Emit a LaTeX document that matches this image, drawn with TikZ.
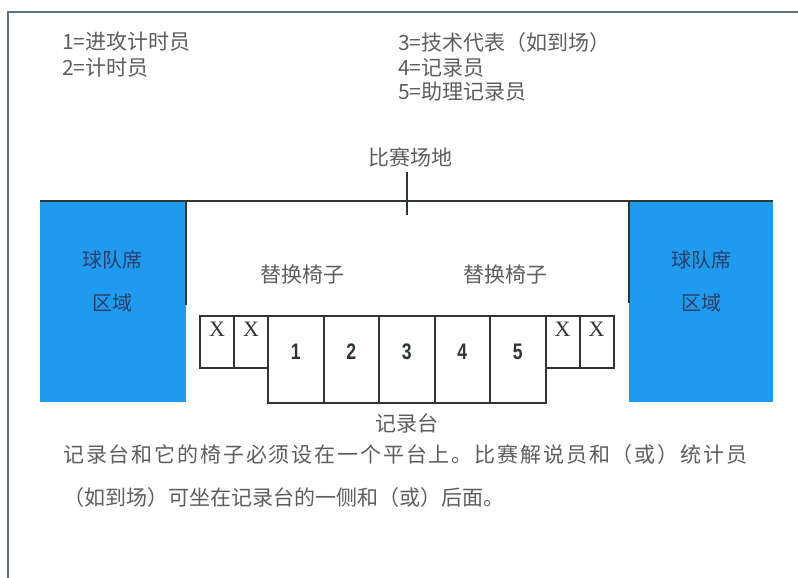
\documentclass[tikz,border=0pt]{standalone}
\usepackage{fontspec}
\newfontfamily\cjk{Noto Sans CJK SC}
\newfontfamily\numfont[FakeStretch=0.78]{Liberation Sans}
\newfontfamily\xfont{Liberation Serif}
\definecolor{teamblue}{HTML}{1E9BEF}
\definecolor{teamtext}{HTML}{2C3E66}
\definecolor{txtgray}{HTML}{5E5E5E}
\definecolor{lineblk}{HTML}{2F3535}
\definecolor{framec}{HTML}{5B7380}
\begin{document}
\begin{tikzpicture}[x=1pt,y=-1pt,
  txt/.style={font=\cjk\fontsize{21pt}{25pt}\selectfont, text=txtgray, inner sep=0pt},
  teamtxt/.style={font=\cjk\fontsize{20pt}{24pt}\selectfont, text=teamtext, inner sep=0pt},
  team/.style={fill=teamblue, draw=none, inner sep=0pt},
  heavy/.style={draw=lineblk, line width=2pt},
  seat/.style={draw=lineblk, line width=2pt, fill=white, inner sep=0pt},
  xbox/.style={seat, minimum width=34pt, minimum height=52pt},
  nbox/.style={seat, minimum width=55.5pt, minimum height=87pt},
  xlab/.style={font=\xfont\fontsize{22pt}{24pt}\selectfont, text=lineblk, inner sep=0pt},
  nlab/.style={font=\numfont\bfseries\fontsize{22.5pt}{24pt}\selectfont, text=lineblk, inner sep=0pt}]
\useasboundingbox (0,0) rectangle (798,578);
\fill[white] (0,0) rectangle (798,578);
% frame
\draw[framec, line width=1.5pt] (8,578) -- (8,12) -- (798,12);
% legend
\node[txt, anchor=west] (l1) at (62,42) {1=进攻计时员};
\node[txt, anchor=west] (l2) at (62,68) {2=计时员};
\node[txt, anchor=west] (l3) at (398,43) {3=技术代表（如到场）};
\node[txt, anchor=west] (l4) at (398,68) {4=记录员};
\node[txt, anchor=west] (l5) at (398,92) {5=助理记录员};
% field
\node[txt] (field) at (410,157) {比赛场地};
% team areas
\node[team, minimum width=146pt, minimum height=201pt] (tl) at (113,301.5) {};
\node[team, minimum width=144pt, minimum height=201pt] (tr) at (701,301.5) {};
\node[teamtxt] (tl1) at (112,260) {球队席};
\node[teamtxt] (tl2) at (112,303) {区域};
\node[teamtxt] (tr1) at (701,260) {球队席};
\node[teamtxt] (tr2) at (701,303) {区域};
\coordinate (fl) at (40,201);
\coordinate (fr) at (773,201);
\coordinate (ftop) at (407,172);
\coordinate (fbot) at (407,215);
\draw[heavy] (fl) -- (fr);
\draw[heavy] (ftop) -- (fbot);
\draw[heavy] (tl.north east) -- ([yshift=-104pt]tl.north east);
\draw[heavy] (tr.north west) -- ([yshift=-102pt]tr.north west);
% substitution chairs
\node[txt] (s1) at (302,275) {替换椅子};
\node[txt] (s2) at (505,275) {替换椅子};
% seats
\node[xbox] (x1) at (217,342) {};
\node[xbox] (x2) at (251,342) {};
\node[nbox] (n1) at (295.75,359.5) {};
\node[nbox] (n2) at (351.25,359.5) {};
\node[nbox] (n3) at (406.75,359.5) {};
\node[nbox] (n4) at (462.25,359.5) {};
\node[nbox] (n5) at (517.75,359.5) {};
\node[xbox] (x3) at (562.5,342) {};
\node[xbox] (x4) at (596.5,342) {};
\foreach \b in {x1,x2,x3,x4}{\node[xlab] at ([yshift=-14pt]\b.north) {X};}
\foreach \b/\t in {n1/1,n2/2,n3/3,n4/4,n5/5}{\node[nlab] at ([yshift=-37pt]\b.north) {\t};}
\node[txt] (table) at (407,423) {记录台};
% paragraph
\node[txt, anchor=west] (p1) at (63,455) {\hbox to 684pt{记\hfill 录\hfill 台\hfill 和\hfill 它\hfill 的\hfill 椅\hfill 子\hfill 必\hfill 须\hfill 设\hfill 在\hfill 一\hfill 个\hfill 平\hfill 台\hfill 上\hfill 。\hfill 比\hfill 赛\hfill 解\hfill 说\hfill 员\hfill 和\hfill （\hfill 或\hfill ）\hfill 统\hfill 计\hfill 员}};
\node[txt, anchor=west] (p2) at (63,498) {（如到场）可坐在记录台的一侧和（或）后面。};
\end{tikzpicture}
\end{document}
